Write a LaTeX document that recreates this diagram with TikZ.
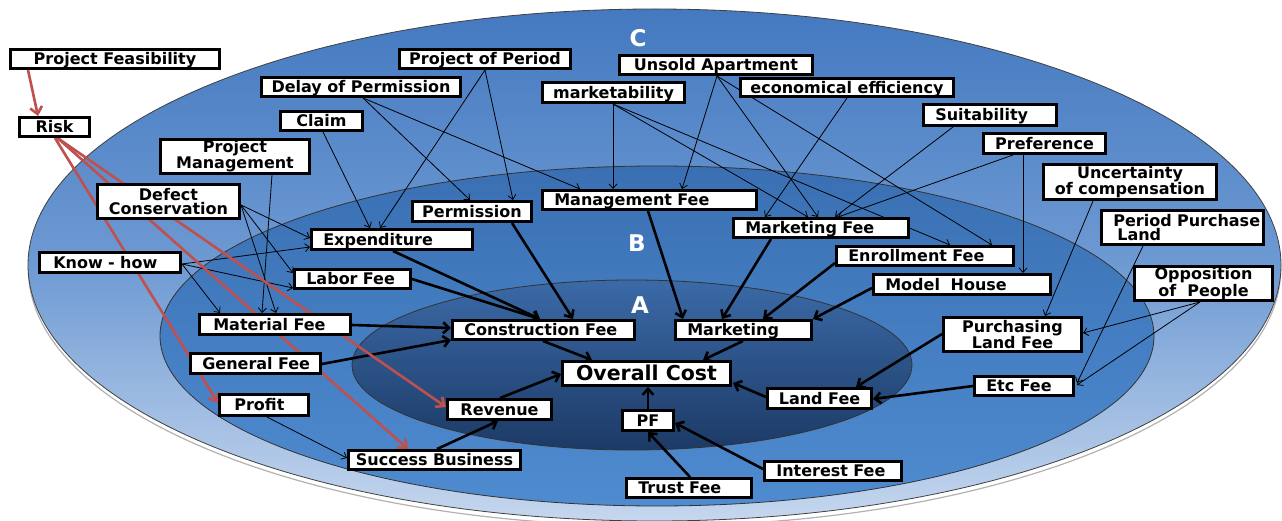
\documentclass[tikz,border=0pt]{standalone}
\usepackage{fontspec}
\newfontfamily\labelfont{DejaVu Sans}
\usetikzlibrary{arrows.meta}

\definecolor{ringCtop}{HTML}{4479C0}
\definecolor{ringCmid}{HTML}{6E9AD3}
\definecolor{ringCbot}{HTML}{C6D7EE}
\definecolor{ringBtop}{HTML}{3A70B3}
\definecolor{ringBbot}{HTML}{4F8BD0}
\definecolor{ringAtop}{HTML}{3B6AA7}
\definecolor{ringAbot}{HTML}{1C3A66}
\definecolor{riskred}{HTML}{C0504D}

\pgfdeclarelayer{backdrop}
\pgfdeclarelayer{wires}
\pgfsetlayers{backdrop,wires,main}

\begin{document}
\begin{tikzpicture}[x=1pt,y=-1pt,
  box/.style={draw=black, line width=2.6pt, fill=white, inner ysep=0pt, outer sep=0pt,
    font=\labelfont\bfseries\fontsize{16}{14}\selectfont, text=black,
    execute at begin node={\hyphenpenalty=10000\exhyphenpenalty=10000}},
  oneline/.style={text height=11.6pt, text depth=0pt},
  lbox/.code 2 args={%
    \pgfmathsetlengthmacro\boxtw{#1pt-26.6pt}%
    \pgfmathsetlengthmacro\boxmh{#2pt-2.6pt}%
    \pgfkeysalso{/tikz/box,/tikz/oneline,/tikz/inner xsep=12pt,/tikz/text width=\boxtw,
      /tikz/minimum height=\boxmh,/tikz/align=left}},
  lboxtwo/.code 2 args={%
    \pgfmathsetlengthmacro\boxtw{#1pt-26.6pt}%
    \pgfmathsetlengthmacro\boxmh{#2pt-2.6pt}%
    \pgfkeysalso{/tikz/box,/tikz/inner xsep=12pt,/tikz/text width=\boxtw,
      /tikz/minimum height=\boxmh,/tikz/align=left}},
  cbox/.code 2 args={%
    \pgfmathsetlengthmacro\boxmw{#1pt-2.6pt}%
    \pgfmathsetlengthmacro\boxmh{#2pt-2.6pt}%
    \pgfkeysalso{/tikz/box,/tikz/oneline,/tikz/inner xsep=3pt,/tikz/minimum width=\boxmw,
      /tikz/minimum height=\boxmh,/tikz/align=center}},
  cboxtwo/.code 2 args={%
    \pgfmathsetlengthmacro\boxmw{#1pt-2.6pt}%
    \pgfmathsetlengthmacro\boxmh{#2pt-2.6pt}%
    \pgfkeysalso{/tikz/box,/tikz/inner xsep=3pt,/tikz/minimum width=\boxmw,
      /tikz/minimum height=\boxmh,/tikz/align=center}},
  ringletter/.style={font=\labelfont\bfseries\fontsize{23}{23}\selectfont, text=white, inner sep=0pt},
  wire/.style={draw=black, line width=0.8pt, -{Straight Barb[length=4.5pt,width=8pt]}},
  flow/.style={draw=black, line width=2.6pt, -{Straight Barb[length=6pt,width=11pt]}},
  riskflow/.style={draw=riskred, line width=2.6pt, -{Straight Barb[length=7pt,width=12pt]}},
]
\useasboundingbox (0,0) rectangle (1282,521);

% ---------- nested rings C, B, A ----------
\begin{pgfonlayer}{backdrop}
  \fill[white] (0,0) rectangle (1282,521);
  \draw[black!30, line width=1.2pt] (654.5,270) ellipse [x radius=626pt, y radius=256pt];
  \shadedraw[top color=ringCtop, bottom color=ringCbot, middle color=ringCmid,
             draw=black!75, line width=0.8pt]
    (654.5,265) ellipse [x radius=626.5pt, y radius=256pt];
  \shadedraw[top color=ringBtop, bottom color=ringBbot, draw=black!80, line width=0.8pt]
    (657,336) ellipse [x radius=497pt, y radius=170pt];
  \shadedraw[top color=ringAtop, bottom color=ringAbot, draw=black!80, line width=0.8pt]
    (632,365) ellipse [x radius=280pt, y radius=85pt];
  \node[ringletter] (letterC) at (638,38) {C};
  \node[ringletter] (letterB) at (637,243) {B};
  \node[ringletter] (letterA) at (640,305) {A};
\end{pgfonlayer}

% ---------- factor boxes ----------
\node[cbox={212}{22}] (pfeas) at (115,59) {Project~Feasibility};
\node[cbox={73}{22}] (risk) at (54.5,127) {Risk};
\node[cbox={202}{22}] (delay) at (361,87) {Delay~of~Permission};
\node[cbox={85}{22}] (claim) at (321.5,121) {Claim};
\node[cboxtwo={152}{37}] (pmgmt) at (235,156.5) {Project\\Management};
\node[cboxtwo={145}{37}] (defect) at (168.5,201.5) {Defect\\Conservation};
\node[lbox={164}{23}] (expend) at (392,239.5) {Expenditure};
\node[cbox={174}{22}] (pperiod) at (485,59) {Project~of~Period};
\node[cbox={196}{22}] (unsold) at (716,65) {Unsold~Apartment};
\node[cbox={145}{23}] (market) at (613.5,92.5) {marketability};
\node[cbox={216}{21}] (econ) at (847,87.5) {economical~efficiency};
\node[cbox={122}{23}] (permis) at (472,211.5) {Permission};
\node[lbox={217}{22}] (mgmtfee) at (649.5,200) {Management~Fee};
\node[lbox={178}{22}] (mktfee) at (821,228) {Marketing~Fee};
\node[lbox={136}{24}] (suit) at (990,115) {Suitability};
\node[cbox={125}{23}] (pref) at (1044.5,143.5) {Preference};
\node[cboxtwo={176}{38}] (uncert) at (1130,182) {Uncertainty\\\mbox{of compensation}};
\node[lboxtwo={165}{37}] (ppland) at (1182.5,227.5) {\mbox{Period Purchase}\\\hspace*{4pt}Land};
\node[lbox={180}{22}] (enroll) at (925,256) {Enrollment~Fee};
\node[lbox={180}{23}] (model) at (962,284.5) {Model~~House};
\node[cboxtwo={141}{37}] (oppo) at (1203.5,283.5) {Opposition\\\mbox{of~~People}};
\node[cboxtwo={141}{37}] (purch) at (1012.5,334.5) {Purchasing\\\mbox{Land Fee}};
\node[lbox={102}{22}] (etc) at (1024,386) {Etc~Fee};
\node[cbox={107}{23}] (landfee) at (819.5,398.5) {Land~Fee};
\node[lbox={140}{22}] (interest) at (833,471) {Interest~Fee};
\node[lbox={128}{22}] (trust) at (689,488) {Trust~Fee};
\node[cbox={54}{23}] (pf) at (648,420.5) {PF};
\node[cbox={171}{27}, font=\labelfont\bfseries\fontsize{20.5}{22}\selectfont,
      text height=14.9pt] (overall) at (646.5,373.5) {Overall~Cost};
\node[cbox={107}{23}] (revenue) at (499.5,409.5) {Revenue};
\node[cbox={175}{22}] (success) at (434.5,460) {Success~Business};
\node[lbox={185}{22}] (construct) at (543.5,330) {Construction~Fee};
\node[lbox={139}{22}] (marketing) at (743.5,330) {Marketing};
\node[lbox={144}{23}] (knowhow) at (110,262.5) {\hspace*{2pt}Know~-~how};
\node[lbox={119}{22}] (labor) at (352.5,279) {Labor~Fee};
\node[lbox={154}{23}] (material) at (275,324.5) {\hspace*{2pt}Material~Fee};
\node[lbox={133}{23}] (general) at (255.5,363.5) {General~Fee};
\node[lbox={92}{24}] (profit) at (264,405) {\hspace*{3pt}Profit};

% ---------- connectors ----------
\begin{pgfonlayer}{wires}
  % influences from the outer ring
  \draw[wire] ([shift={(2,11)}]delay.center) -- ([shift={(-2,-11.5)}]permis.center);
  \draw[wire] ([shift={(2,11)}]delay.center) -- ([shift={(-69.5,-11)}]mgmtfee.center);
  \draw[wire] ([shift={(1.5,11)}]claim.center) -- ([shift={(-22,-11.5)}]expend.center);
  \draw[wire] ([shift={(0,11)}]pperiod.center) -- ([shift={(-12,-11.5)}]expend.center);
  \draw[wire] ([shift={(0,11)}]pperiod.center) -- ([shift={(41,-11.5)}]permis.center);
  \draw[wire] ([shift={(37,18.5)}]pmgmt.center) -- ([shift={(-13,-11.5)}]material.center);
  \draw[wire] ([shift={(72.5,3.5)}]defect.center) -- ([shift={(-82,-1.5)}]expend.center);
  \draw[wire] ([shift={(72.5,3.5)}]defect.center) -- ([shift={(-59.5,-6)}]labor.center);
  \draw[wire] ([shift={(72.5,3.5)}]defect.center) -- ([shift={(1,-11.5)}]material.center);
  \draw[wire] ([shift={(72,1.5)}]knowhow.center) -- ([shift={(-82,7.5)}]expend.center);
  \draw[wire] ([shift={(72,1.5)}]knowhow.center) -- ([shift={(-59.5,9)}]labor.center);
  \draw[wire] ([shift={(72,1.5)}]knowhow.center) -- ([shift={(-55,-11.5)}]material.center);
  \draw[wire] ([shift={(-0.5,11.5)}]market.center) -- ([shift={(-36.5,-11)}]mgmtfee.center);
  \draw[wire] ([shift={(-0.5,11.5)}]market.center) -- ([shift={(-13,-11)}]mktfee.center);
  \draw[wire] ([shift={(-0.5,11.5)}]market.center) -- ([shift={(25,-11)}]enroll.center);
  \draw[wire] ([shift={(1,11)}]unsold.center) -- ([shift={(32.5,-11)}]mgmtfee.center);
  \draw[wire] ([shift={(1,11)}]unsold.center) -- ([shift={(-3,-11)}]mktfee.center);
  \draw[wire] ([shift={(1,11)}]unsold.center) -- ([shift={(67,-11)}]enroll.center);
  \draw[wire] ([shift={(0,10.5)}]econ.center) -- ([shift={(-56,-11)}]mktfee.center);
  \draw[wire] ([shift={(-37,12)}]suit.center) -- ([shift={(14,-11)}]mktfee.center);
  \draw[wire] ([shift={(-31.5,11.5)}]pref.center) -- ([shift={(17,-11)}]mktfee.center);
  \draw[wire] ([shift={(-21.5,11.5)}]pref.center) -- ([shift={(61,-11.5)}]model.center);
  \draw[wire] ([shift={(-37,19)}]uncert.center) -- ([shift={(32.5,-18.5)}]purch.center);
  \draw[wire] ([shift={(-39.5,18.5)}]ppland.center) -- ([shift={(53,-3)}]etc.center);
  \draw[wire] ([shift={(-3.5,18.5)}]oppo.center) -- ([shift={(70.5,-1.5)}]purch.center);
  \draw[wire] ([shift={(-3.5,18.5)}]oppo.center) -- ([shift={(53,-1)}]etc.center);
  \draw[wire] ([shift={(3,12)}]profit.center) -- ([shift={(-87.5,-2)}]success.center);

  % cost components toward the core
  \draw[flow] ([shift={(1,11.5)}]expend.center) -- ([shift={(-3.5,-11)}]construct.center);
  \draw[flow] ([shift={(59.5,0)}]labor.center) -- ([shift={(-3.5,-11)}]construct.center);
  \draw[flow] ([shift={(40,11.5)}]permis.center) -- ([shift={(29.5,-11)}]construct.center);
  \draw[flow] ([shift={(77,0.5)}]material.center) -- ([shift={(-92.5,-2)}]construct.center);
  \draw[flow] ([shift={(66.5,0.5)}]general.center) -- ([shift={(-92.5,10)}]construct.center);
  \draw[flow] ([shift={(-0.5,11)}]construct.center) -- ([shift={(-54.5,-13.5)}]overall.center);
  \draw[flow] ([shift={(-1.5,11)}]mgmtfee.center) -- ([shift={(-60.5,-11)}]marketing.center);
  \draw[flow] ([shift={(-50,11)}]mktfee.center) -- ([shift={(-21.5,-11)}]marketing.center);
  \draw[flow] ([shift={(-90,7)}]enroll.center) -- ([shift={(19.5,-11)}]marketing.center);
  \draw[flow] ([shift={(-90,3.5)}]model.center) -- ([shift={(69.5,-11)}]marketing.center);
  \draw[flow] ([shift={(-0.5,11)}]marketing.center) -- ([shift={(56.5,-13.5)}]overall.center);
  \draw[flow] ([shift={(0.5,-11.5)}]revenue.center) -- ([shift={(-85.5,0.5)}]overall.center);
  \draw[flow] ([shift={(2.5,-11)}]success.center) -- ([shift={(-1.5,11.5)}]revenue.center);
  \draw[flow] ([shift={(-53.5,-1.5)}]landfee.center) -- ([shift={(86.5,9.5)}]overall.center);
  \draw[flow] ([shift={(0,-11.5)}]pf.center) -- ([shift={(1.5,13.5)}]overall.center);
  \draw[flow] ([shift={(1,-11)}]trust.center) -- ([shift={(0,11.5)}]pf.center);
  \draw[flow] ([shift={(-70,-2)}]interest.center) -- ([shift={(27,2.5)}]pf.center);
  \draw[flow] ([shift={(-70.5,-0.5)}]purch.center) -- ([shift={(36.5,-11.5)}]landfee.center);
  \draw[flow] ([shift={(-51,0)}]etc.center) -- ([shift={(53.5,0.5)}]landfee.center);

  % risk paths
  \draw[riskflow] ([shift={(-87,11)}]pfeas.center) -- ([shift={(-16.5,-11)}]risk.center);
  \draw[riskflow] ([shift={(0.5,11)}]risk.center) -- ([shift={(-46,-2)}]profit.center);
  \draw[riskflow] ([shift={(3,11)}]risk.center) -- ([shift={(-26.5,-11)}]success.center);
  \draw[riskflow] ([shift={(3,11)}]risk.center) -- ([shift={(-53.5,-2.5)}]revenue.center);
\end{pgfonlayer}
\end{tikzpicture}
\end{document}
